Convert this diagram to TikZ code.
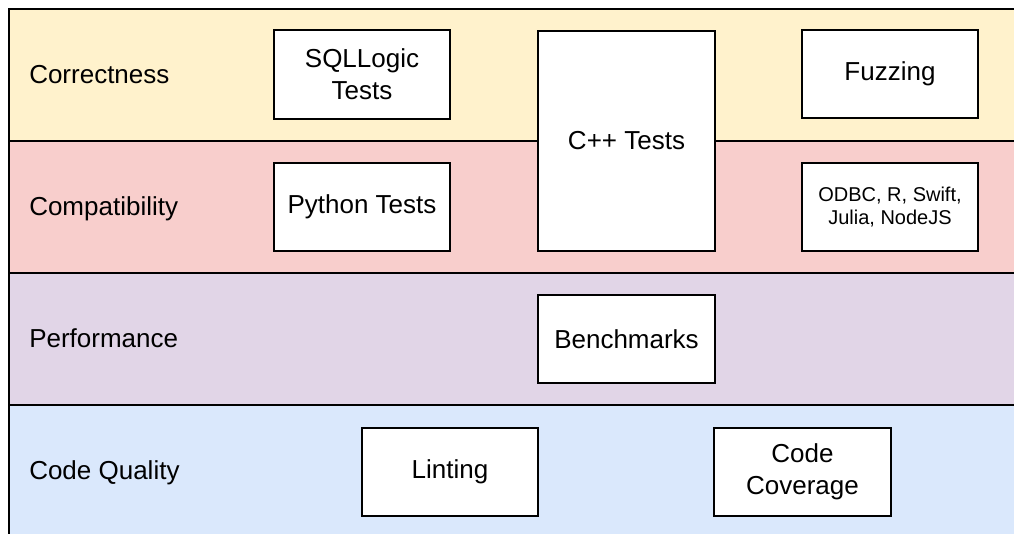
\documentclass[tikz,border=0pt]{standalone}
\usepackage{fontspec}
\setmainfont{Liberation Sans}
\definecolor{bandyellow}{HTML}{FFF2CC}
\definecolor{bandred}{HTML}{F8CECC}
\definecolor{bandpurple}{HTML}{E1D5E7}
\definecolor{bandblue}{HTML}{DAE8FC}
\tikzset{
  band/.style={draw=black, line width=1.5pt},
  bandlabel/.style={anchor=base west, inner sep=0pt, font=\fontsize{19.5}{24}\selectfont},
  testbox/.style={draw=black, fill=white, line width=1.5pt, inner sep=0pt,
    align=center, font=\fontsize{19.5}{24}\selectfont},
  smallbox/.style={testbox, font=\fontsize{15}{17.5}\selectfont},
}
\begin{document}
\begin{tikzpicture}[x=0.75pt, y=-0.75pt]
\useasboundingbox (0,0) rectangle (1014,533);
\clip (0,0) rectangle (1014,533);
% layer bands
\fill[white] (0,0) rectangle (1014,533);
\draw[band, fill=bandyellow] (9,9) rectangle (1040,141);
\draw[band, fill=bandred] (9,141) rectangle (1040,273);
\draw[band, fill=bandpurple] (9,273) rectangle (1040,405);
\draw[band, fill=bandblue] (9,405) rectangle (1040,560);
% layer names (baselines)
\node[bandlabel] (correctness) at (29,83.5) {Correctness};
\node[bandlabel] (compatibility) at (29,215.5) {Compatibility};
\node[bandlabel] (performance) at (29,347.5) {Performance};
\node[bandlabel] (quality) at (29,479.5) {Code Quality};
% test suites
\node[testbox, minimum width=132pt, minimum height=66.5pt] (sqllogic) at (362,74.5) {SQLLogic\\Tests};
\node[testbox, minimum width=132.75pt, minimum height=165pt] (cpp) at (626.5,141) {C++ Tests};
\node[testbox, minimum width=132pt, minimum height=66pt] (fuzzing) at (890,74) {Fuzzing};
\node[testbox, minimum width=132pt, minimum height=66pt] (python) at (362,207) {Python Tests};
\node[smallbox, minimum width=132pt, minimum height=66pt] (clients) at (890,207) {ODBC, R, Swift,\\Julia, NodeJS};
\node[testbox, minimum width=132.75pt, minimum height=66pt] (bench) at (626.5,339) {Benchmarks};
\node[testbox, minimum width=132pt, minimum height=66pt] (lint) at (450,472) {Linting};
\node[testbox, minimum width=132.75pt, minimum height=66pt] (coverage) at (802.5,472) {Code\\Coverage};
\end{tikzpicture}
\end{document}
